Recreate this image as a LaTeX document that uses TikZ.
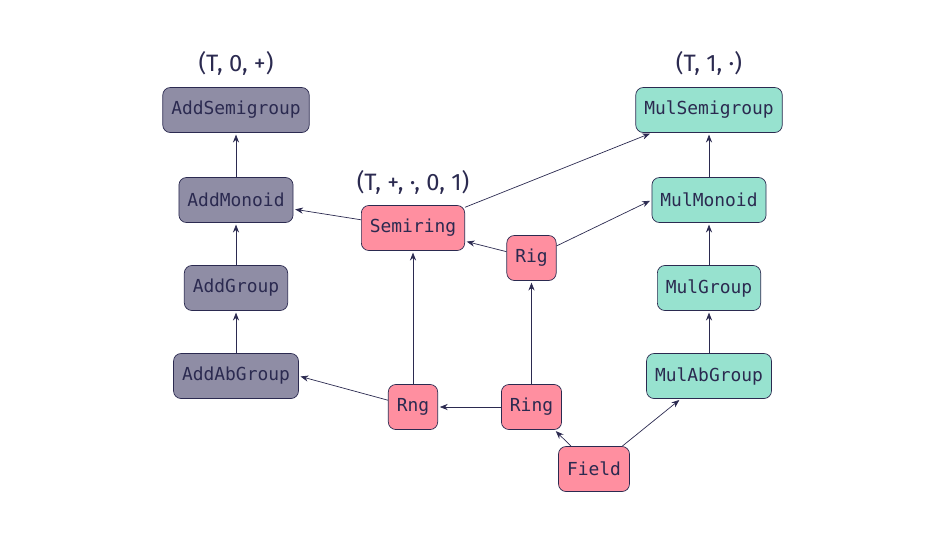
\documentclass[tikz,border=0pt]{standalone}
\usepackage{fontspec}
\setmainfont{Fira Sans}
\setmonofont{DejaVu Sans Mono}
\usetikzlibrary{arrows.meta}
\definecolor{ink}{HTML}{2B2A50}
\definecolor{addcol}{HTML}{8F8DA5}
\definecolor{mulcol}{HTML}{97E2CF}
\definecolor{ringcol}{HTML}{FF8FA0}

\begin{document}
\begin{tikzpicture}[x=0.02cm,y=-0.02cm]
\tikzstyle{cls}=[rectangle,rounded corners=0.15cm,draw=ink,text=ink,minimum height=0.9cm,inner xsep=0.17cm,font=\ttfamily\fontsize{10.2}{12}\selectfont]
\tikzstyle{sig}=[text=ink,font=\fontsize{13.5}{15}\selectfont]
\tikzstyle{edge}=[draw=ink,-{Stealth[length=4.5pt,width=3.5pt]},shorten >=1pt]
\useasboundingbox (0,0) rectangle (945,532);
% additive side
\node[cls,fill=addcol] (addsemigroup) at (236,110) {AddSemigroup};
\node[cls,fill=addcol] (addmonoid) at (236,200) {AddMonoid};
\node[cls,fill=addcol] (addgroup) at (236,288) {AddGroup};
\node[cls,fill=addcol] (addabgroup) at (236,376) {AddAbGroup};
% multiplicative side
\node[cls,fill=mulcol] (mulsemigroup) at (709,110) {MulSemigroup};
\node[cls,fill=mulcol] (mulmonoid) at (709,200) {MulMonoid};
\node[cls,fill=mulcol] (mulgroup) at (709,288) {MulGroup};
\node[cls,fill=mulcol] (mulabgroup) at (709,376) {MulAbGroup};
% rings
\node[cls,fill=ringcol] (semiring) at (413,228) {Semiring};
\node[cls,fill=ringcol] (rig) at (531.5,258) {Rig};
\node[cls,fill=ringcol] (rng) at (413,407) {Rng};
\node[cls,fill=ringcol] (ring) at (531.5,407) {Ring};
\node[cls,fill=ringcol] (field) at (594,469) {Field};
% signatures
\node[sig] (addsig) at (236,63) {(T, 0, +)};
\node[sig] (mulsig) at (709,63) {(T, 1, ·)};
\node[sig] (semisig) at (413,182) {(T, +, ·, 0, 1)};
% edges
\draw[edge] (addmonoid) -- (addsemigroup);
\draw[edge] (addgroup) -- (addmonoid);
\draw[edge] (addabgroup) -- (addgroup);
\draw[edge] (mulmonoid) -- (mulsemigroup);
\draw[edge] (mulgroup) -- (mulmonoid);
\draw[edge] (mulabgroup) -- (mulgroup);
\draw[edge] (semiring) -- (addmonoid);
\draw[edge] (semiring) -- (mulsemigroup);
\draw[edge] (rig) -- (semiring);
\draw[edge] (rig) -- (mulmonoid.west);
\draw[edge] (rng) -- (semiring);
\draw[edge] (rng) -- (addabgroup.east);
\draw[edge] (ring) -- (rng);
\draw[edge] (ring) -- (rig);
\draw[edge] (field) -- (ring);
\draw[edge] (field) -- (mulabgroup);
\end{tikzpicture}
\end{document}
